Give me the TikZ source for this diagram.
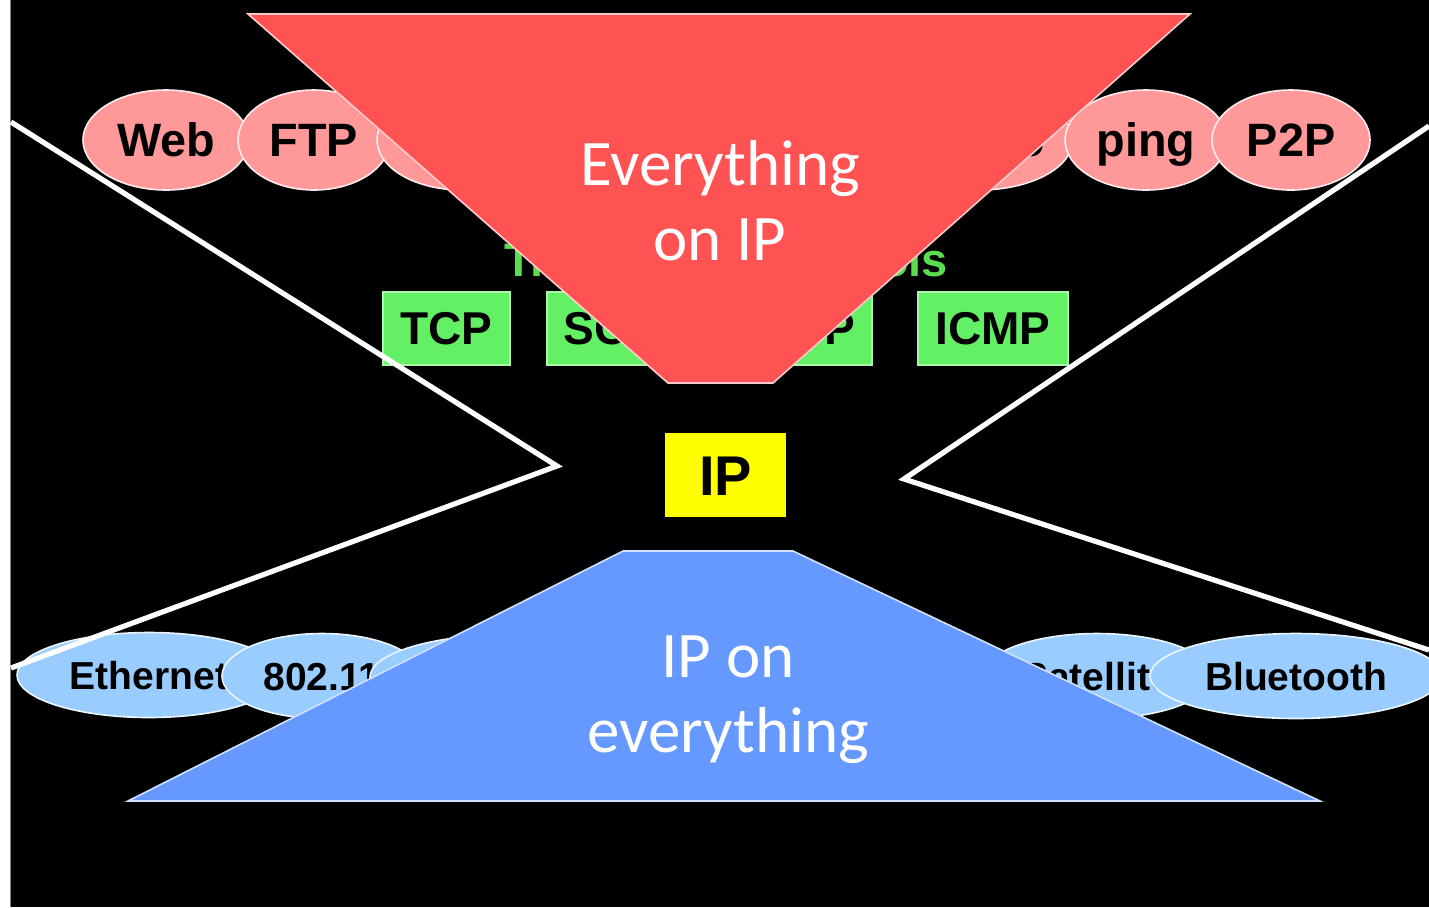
\documentclass[tikz,border=0pt]{standalone}
\usepackage{fontspec}
\usetikzlibrary{shapes.geometric}
\newfontfamily\arialf{Liberation Sans}
\newfontfamily\calf{Carlito}
\definecolor{apppink}{RGB}{255,153,153}
\definecolor{hotred}{RGB}{255,82,82}
\definecolor{linkblue}{RGB}{153,204,255}
\definecolor{baseblue}{RGB}{102,153,255}
\definecolor{tgreen}{RGB}{100,240,100}
\definecolor{tgreentext}{RGB}{90,222,80}
\definecolor{ipyellow}{RGB}{255,255,0}
\begin{document}
\begin{tikzpicture}[x=0.5pt,y=-0.5pt,
  appl/.style={ellipse, draw=white!80!apppink, line width=0.8pt, fill=apppink,
    inner sep=0pt, minimum height=50pt, text height=16.7pt, text depth=0pt,
    font=\arialf\bfseries\fontsize{23.4}{27}\selectfont},
  linkl/.style={ellipse, draw=white!80!linkblue, line width=0.8pt, fill=linkblue,
    inner sep=0pt, minimum height=42.5pt, text height=14pt, text depth=0pt,
    font=\arialf\bfseries\fontsize{19.5}{23}\selectfont},
  tbox/.style={rectangle, draw=white!45!tgreen, line width=0.6pt, fill=tgreen,
    inner sep=0pt, minimum height=36.5pt, text height=16.4pt, text depth=0pt,
    font=\arialf\bfseries\fontsize{23}{27}\selectfont},
  ipbox/.style={rectangle, fill=ipyellow, inner sep=0pt, minimum width=60.5pt,
    minimum height=42pt, text height=20pt, text depth=0pt,
    font=\arialf\bfseries\fontsize{28}{32}\selectfont},
  waist/.style={draw=white, line width=2.6pt, line join=miter},
  funnel/.style={line width=0.8pt},
  bigtext/.style={text=white, align=center,
    font=\calf\fontsize{32.5}{37.5}\selectfont}]

% page and dark backdrop
\useasboundingbox (0,0) rectangle (1429,907);
\fill[white] (0,0) rectangle (1429,907);
\fill[black] (11,0) rectangle (1429,907);
\draw[gray, line width=0.5pt] (10.5,0) -- (10.5,907);

% application layer
\node[appl, minimum width=83pt] (web)   at (166,140)  {Web};
\node[appl, minimum width=76pt] (ftp)   at (314,140)  {FTP};
\node[appl, minimum width=85pt] (mail)  at (462,140)  {};
\node[appl, minimum width=85pt] (audio) at (979,140)  {Audio};
\node[appl, minimum width=81pt] (ping)  at (1146,140) {ping};
\node[appl, minimum width=79pt] (ptwop) at (1291,140) {P2P};

% transport layer
\node[text=tgreentext, inner sep=0pt, text height=16.8pt, text depth=0pt,
  font=\arialf\bfseries\fontsize{23.5}{27}\selectfont] (transport) at (726,260)
  {Transport protocols};
\node[tbox, minimum width=63.5pt] (tcp)  at (446.5,328.5) {TCP};
\node[tbox, minimum width=78pt]   (sctp) at (625,328.5)   {SCTP};
\node[tbox, minimum width=65.5pt] (udp)  at (806.5,328.5) {UDP};
\node[tbox, minimum width=75pt]   (icmp) at (993,328.5)   {ICMP};

% network layer
\node[ipbox] (ip) at (725.5,475) {IP};

% link layer
\node[linkl, minimum width=132pt] (eth)   at (149,675)  {Ethernet};
\node[linkl, minimum width=100pt] (wifi)  at (322,676)  {802.11};
\node[linkl, minimum width=140pt] (power) at (510,677)  {};
\node[linkl, minimum width=115pt] (sat)   at (1097,676) {Satellite};
\node[linkl, minimum width=146pt] (bt)    at (1296,676) {Bluetooth};

% hourglass outline
\coordinate (lt) at (11,122);
\coordinate (lv) at (557,466);
\coordinate (lb) at (11,668);
\coordinate (rt) at (1429,126);
\coordinate (rv) at (904,479);
\coordinate (rb) at (1429,650);
\draw[waist] (lt) -- (lv) -- (lb);
\draw[waist] (rt) -- (rv) -- (rb);

% upper funnel
\draw[funnel, fill=hotred, draw=white!70!hotred]
  (248,14) -- (1190,14) -- (773,383) -- (668,383) -- cycle;
\node[bigtext] (overip) at (720,201) {Everything\\on IP};

% lower funnel
\draw[funnel, fill=baseblue, draw=white!70!baseblue]
  (623,551) -- (793,551) -- (1320,801) -- (128,801) -- cycle;
\node[bigtext] (undertip) at (728,700) {IP on\\everything};
\end{tikzpicture}
\end{document}
